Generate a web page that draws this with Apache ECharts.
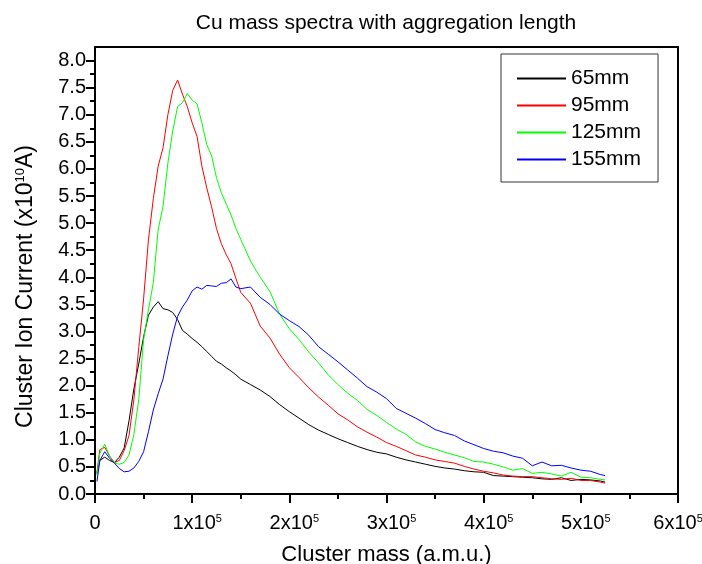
<!DOCTYPE html>
<html>
<head>
<meta charset="utf-8">
<script src="https://cdn.jsdelivr.net/npm/echarts@6/dist/echarts.min.js"></script>
<style>
  html, body { margin: 0; padding: 0; background: #fff; }
  #main { width: 702px; height: 564px; }
</style>
</head>
<body>
<div id="main"></div>
<script>
// 團簇質量 (x10^5 a.m.u.)
var massE5 = [0.02, 0.05, 0.10, 0.15, 0.20, 0.25, 0.30, 0.35, 0.40, 0.45,
    0.50, 0.55, 0.60, 0.65, 0.70, 0.75, 0.80, 0.85, 0.90, 0.95,
    1.00, 1.05, 1.10, 1.15, 1.20, 1.25, 1.30, 1.35, 1.40, 1.45,
    1.50, 1.60, 1.70, 1.80, 1.90, 2.00, 2.10, 2.20, 2.30, 2.40,
    2.50, 2.60, 2.70, 2.80, 2.90, 3.00, 3.10, 3.20, 3.30, 3.40,
    3.50, 3.60, 3.70, 3.80, 3.90, 4.00, 4.10, 4.20, 4.30, 4.40,
    4.50, 4.60, 4.70, 4.80, 4.90, 5.00, 5.10, 5.20, 5.25];
// 各聚集長度的離子電流 (x10^-10 A)
var current65 = [0.38, 0.62, 0.68, 0.62, 0.58, 0.68, 0.85, 1.35, 1.94, 2.40,
    2.90, 3.30, 3.45, 3.55, 3.42, 3.40, 3.35, 3.22, 3.02, 2.95,
    2.87, 2.80, 2.72, 2.63, 2.54, 2.45, 2.40, 2.33, 2.27, 2.20,
    2.12, 2.02, 1.92, 1.80, 1.65, 1.52, 1.40, 1.28, 1.18, 1.10,
    1.02, 0.95, 0.88, 0.82, 0.77, 0.74, 0.68, 0.63, 0.59, 0.55,
    0.51, 0.48, 0.46, 0.43, 0.41, 0.40, 0.34, 0.33, 0.32, 0.31,
    0.30, 0.28, 0.27, 0.30, 0.25, 0.27, 0.26, 0.24, 0.22];
var current95 = [0.40, 0.82, 0.86, 0.70, 0.58, 0.62, 0.80, 1.08, 1.74, 2.70,
    3.60, 4.69, 5.45, 6.05, 6.39, 7.00, 7.45, 7.64, 7.38, 7.15,
    6.85, 6.60, 6.05, 5.65, 5.30, 4.90, 4.62, 4.42, 4.25, 3.98,
    3.72, 3.52, 3.10, 2.88, 2.58, 2.33, 2.15, 1.96, 1.79, 1.64,
    1.48, 1.37, 1.24, 1.14, 1.05, 0.95, 0.88, 0.80, 0.72, 0.68,
    0.63, 0.60, 0.57, 0.51, 0.46, 0.42, 0.39, 0.35, 0.33, 0.32,
    0.32, 0.30, 0.28, 0.27, 0.29, 0.25, 0.25, 0.22, 0.20];
var current125 = [0.35, 0.75, 0.92, 0.70, 0.57, 0.55, 0.58, 0.72, 1.10, 1.74,
    2.85, 3.40, 3.90, 4.88, 5.31, 6.11, 6.70, 7.15, 7.22, 7.39,
    7.27, 7.20, 6.85, 6.45, 6.24, 5.84, 5.56, 5.35, 5.15, 4.90,
    4.70, 4.30, 4.00, 3.74, 3.32, 3.05, 2.85, 2.62, 2.42, 2.20,
    2.02, 1.86, 1.73, 1.56, 1.45, 1.32, 1.20, 1.10, 0.96, 0.88,
    0.83, 0.77, 0.72, 0.67, 0.60, 0.59, 0.55, 0.50, 0.44, 0.47,
    0.38, 0.40, 0.37, 0.33, 0.40, 0.31, 0.30, 0.27, 0.26];
var current155 = [0.23, 0.62, 0.78, 0.66, 0.57, 0.47, 0.41, 0.42, 0.48, 0.60,
    0.78, 1.15, 1.55, 1.85, 2.12, 2.55, 2.95, 3.28, 3.45, 3.58,
    3.75, 3.82, 3.78, 3.85, 3.84, 3.83, 3.89, 3.90, 3.97, 3.82,
    3.79, 3.82, 3.63, 3.50, 3.32, 3.20, 3.09, 2.93, 2.72, 2.58,
    2.44, 2.29, 2.14, 1.98, 1.88, 1.76, 1.58, 1.49, 1.40, 1.30,
    1.19, 1.13, 1.08, 0.98, 0.91, 0.84, 0.79, 0.76, 0.70, 0.66,
    0.52, 0.59, 0.52, 0.53, 0.48, 0.44, 0.42, 0.36, 0.34];
// 圖例名稱與顏色
var seriesNames = ['65mm', '95mm', '125mm', '155mm'];
var seriesColors = ['#000000', '#ff0000', '#00ff00', '#0000ff'];
var seriesValues = [current65, current95, current125, current155];
// 刻度
var yMajorTicks = [0, 0.5, 1, 1.5, 2, 2.5, 3, 3.5, 4, 4.5, 5, 5.5, 6, 6.5, 7, 7.5, 8];
var yMinorTicks = [0.25, 0.75, 1.25, 1.75, 2.25, 2.75, 3.25, 3.75, 4.25, 4.75, 5.25, 5.75, 6.25, 6.75, 7.25, 7.75];
var xTickLabels = ['0', '1', '2', '3', '4', '5', '6'];

var FONT = 'Liberation Sans, Arial, sans-serif';
var chart = echarts.init(document.getElementById('main'));

// 組成折線
var lines = [];
for (var i = 0; i < seriesNames.length; i++) {
    var pts = [];
    for (var k = 0; k < massE5.length; k++) {
        pts.push([massE5[k], seriesValues[i][k]]);
    }
    lines.push({
        name: seriesNames[i],
        type: 'line',
        symbol: 'none',
        color: seriesColors[i],
        lineStyle: { color: seriesColors[i], width: 1 },
        itemStyle: { color: seriesColors[i] },
        data: pts
    });
}

var option = {
    backgroundColor: '#fff',
    animation: false,
    color: seriesColors,
    title: {
        text: 'Cu mass spectra with aggregation length',
        left: 381,
        top: 8,
        textAlign: 'center',
        textStyle: { fontFamily: FONT, fontSize: 21, fontWeight: 'normal', color: '#000' }
    },
    legend: {
        orient: 'vertical',
        left: 501,
        top: 54,
        padding: [14, 17, 12, 16],
        icon: 'rect',
        itemWidth: 49,
        itemHeight: 2,
        itemGap: 6,
        borderColor: '#333',
        borderWidth: 1,
        data: seriesNames,
        textStyle: { fontFamily: FONT, fontSize: 21, lineHeight: 21, color: '#000' }
    },
    grid: {
        left: 95, right: 24, top: 47, bottom: 70,
        outerBoundsMode: 'none',
        containLabel: false,
        show: true,
        borderColor: '#000',
        borderWidth: 2
    },
    xAxis: {
        type: 'value',
        min: 0, max: 6, interval: 1,
        name: 'Cluster mass (a.m.u.)',
        nameLocation: 'middle',
        nameGap: 50,
        nameTextStyle: { fontFamily: FONT, fontSize: 22, color: '#000' },
        axisLine: { lineStyle: { color: '#000', width: 2 } },
        axisTick: { length: 9, lineStyle: { color: '#000', width: 2 } },
        minorTick: { show: true, splitNumber: 2, length: 5, lineStyle: { color: '#000', width: 2 } },
        splitLine: { show: false },
        axisLabel: {
            margin: 19,
            color: '#000',
            formatter: function (v) {
                var s = xTickLabels[Math.round(v)];
                if (s === '0') return '{a|0}';
                // 最右側標籤貼齊畫面邊緣
                if (s === '6') return '{c|' + s + 'x10}{s|5}';
                return '{b|' + s + 'x10}{s|5}';
            },
            rich: {
                a: { fontFamily: FONT, fontSize: 20, color: '#000' },
                b: { fontFamily: FONT, fontSize: 20, color: '#000', padding: [0, 0, 0, 10] },
                c: { fontFamily: FONT, fontSize: 20, color: '#000' },
                s: { fontFamily: FONT, fontSize: 11, color: '#000', verticalAlign: 'top', padding: [0, 0, 9, 0] }
            }
        }
    },
    yAxis: [{
        type: 'value',
        position: 'left',
        min: 0, max: 8.25, interval: 0.5,
        name: '{a|Cluster Ion Current (x10}{s|10}{a|A)}',
        nameLocation: 'middle',
        nameGap: 57,
        nameTextStyle: {
            padding: [0, 32, 0, 0],
            rich: {
                a: { fontFamily: FONT, fontSize: 23, color: '#000' },
                s: { fontFamily: FONT, fontSize: 13, color: '#000', verticalAlign: 'top', padding: [0, 0, 11, 0] }
            }
        },
        axisLine: { lineStyle: { color: '#000', width: 2 } },
        axisTick: { length: 9, customValues: yMajorTicks, lineStyle: { color: '#000', width: 2 } },
        splitLine: { show: false },
        axisLabel: {
            customValues: yMajorTicks,
            margin: 9,
            color: '#000',
            fontFamily: FONT,
            fontSize: 20,
            formatter: function (v) { return v.toFixed(1); }
        }
    }, {
        type: 'value',
        position: 'left',
        min: 0, max: 8.25,
        axisLine: { show: false },
        axisTick: { length: 5, customValues: yMinorTicks, lineStyle: { color: '#000', width: 2 } },
        axisLabel: { show: false },
        splitLine: { show: false }
    }],
    series: lines
};
chart.setOption(option);
</script>
</body>
</html>
